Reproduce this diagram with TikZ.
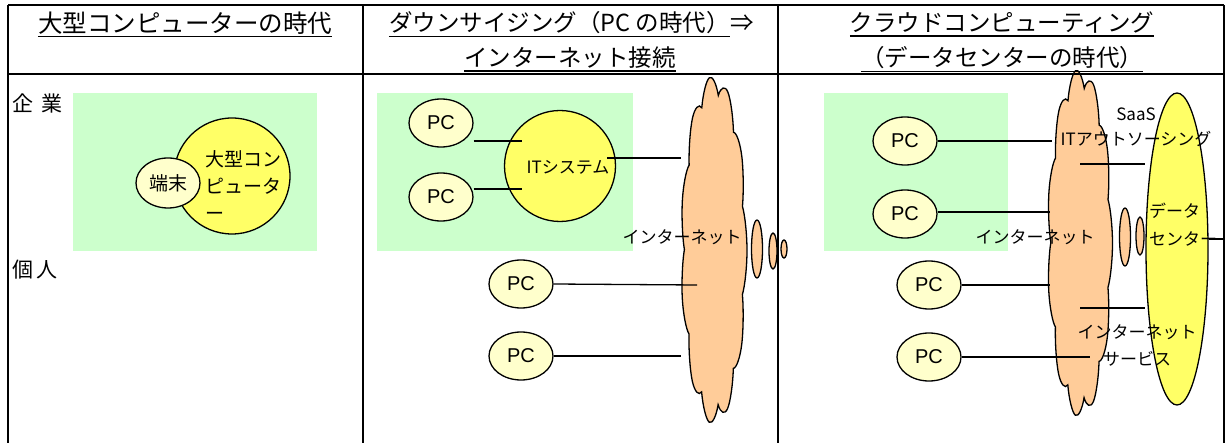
\documentclass[tikz,border=0pt]{standalone}
\usepackage{fontspec}
\setmainfont{Noto Sans CJK JP}
\newfontfamily\arialf{Liberation Sans}
\usetikzlibrary{shapes.symbols,shapes.geometric}
\definecolor{lgreen}{RGB}{204,255,204}
\definecolor{yel}{RGB}{255,255,102}
\definecolor{pale}{RGB}{255,255,204}
\definecolor{peach}{RGB}{255,204,153}
\begin{document}
\begin{tikzpicture}[x=1pt,y=-1pt,
  grid/.style={line width=2pt},
  zone/.style={fill=lgreen,draw=none},
  hdr/.style={inner sep=0pt,font=\fontsize{23.5}{28}\selectfont},
  uline/.style={line width=1.6pt},
  side/.style={inner sep=0pt,anchor=west,font=\fontsize{21}{24}\selectfont},
  pcnode/.style={ellipse,draw,line width=1.3pt,fill=pale,minimum width=64pt,minimum height=48pt,inner sep=0pt,font=\arialf\fontsize{20}{24}\selectfont},
  bigsys/.style={circle,draw,line width=1.3pt,fill=yel,inner sep=0pt},
  cloudnode/.style={cloud,cloud puffs=11,cloud puff arc=115,cloud ignores aspect,draw,line width=1.3pt,fill=peach,inner sep=0pt,minimum width=100pt,minimum height=100pt,transform shape},
  bubble/.style={ellipse,draw,line width=1.3pt,fill=peach,inner sep=0pt},
  txt/.style={inner sep=0pt,font=\fontsize{17}{25}\selectfont},
  conn/.style={line width=1.3pt}]
\useasboundingbox (0,0) rectangle (1227,443);
% ---------- column 1 ----------
\fill[zone] (73,93) rectangle (317,251);
\node[bigsys,minimum size=116pt] (mf) at (232,176) {};
\node[pcnode,minimum width=64pt,minimum height=50pt,font=\fontsize{19}{22}\selectfont] (term) at (168,183) {端末};
\node[txt,align=left,anchor=west,font=\fontsize{19}{27}\selectfont] (mflbl) at (205,186) {大型コン\\ピュータ\\ー};
\node[side] (corp) at (12,103) {企\hspace{8pt}業};
\node[side] (indiv) at (12,270) {個\hspace{3pt}人};
% ---------- column 2 ----------
\fill[zone] (377,93) rectangle (633,251);
\begin{scope}[shift={(714,250)},xscale=0.66,yscale=3.48]
  \node[cloudnode,rotate=8] (net2) at (0,0) {};
\end{scope}
\node[bubble,minimum width=11pt,minimum height=58pt] (b21) at (757,249) {};
\node[bubble,minimum width=8pt,minimum height=36pt] (b22) at (773,251) {};
\node[bubble,minimum width=6pt,minimum height=18pt] (b23) at (784,249) {};
\node[pcnode] (pc21) at (441,123) {PC};
\node[pcnode] (pc22) at (441,197) {PC};
\node[bigsys,minimum size=111pt] (its) at (560,166) {};
\node[pcnode] (pc23) at (521,284) {PC};
\node[pcnode] (pc24) at (521,356) {PC};
\coordinate (c21) at (522,141);
\coordinate (c22) at (522,189);
\coordinate (itsout) at (607,158);
\coordinate (c2net) at (681,158);
\coordinate (c23) at (697,285);
\coordinate (c24) at (681,356);
\draw[conn] (pc21.east |- c21) -- (c21);
\draw[conn] (pc22.east |- c22) -- (c22);
\draw[conn] (itsout) -- (c2net);
\draw[conn] (pc23.east) -- (c23);
\draw[conn] (pc24.east) -- (c24);
\node[txt] (itslbl) at (568,167) {ITシステム};
\node[txt] (net2lbl) at (682,237) {インターネット};
% ---------- column 3 ----------
\fill[zone] (824,93) rectangle (1008,251);
\begin{scope}[shift={(1080,243)},xscale=0.65,yscale=3.48]
  \node[cloudnode,rotate=8] (net3) at (0,0) {};
\end{scope}
\node[bigsys,ellipse,minimum width=62pt,minimum height=312pt] (dc) at (1177,249) {};
\node[bubble,minimum width=11pt,minimum height=58pt] (b31) at (1125,237) {};
\node[bubble,minimum width=8pt,minimum height=38pt] (b32) at (1140,236) {};
\node[pcnode] (pc31) at (905,141) {PC};
\node[pcnode] (pc32) at (905,214) {PC};
\node[pcnode] (pc33) at (929,285) {PC};
\node[pcnode] (pc34) at (929,357) {PC};
\coordinate (c31) at (1052,141);
\coordinate (c32) at (1050,212);
\coordinate (c33) at (1050,285);
\coordinate (c34) at (1090,357);
\coordinate (n3a) at (1080,164);
\coordinate (n3b) at (1080,308);
\coordinate (dcright) at (1224,239);
\draw[conn] (pc31.east) -- (c31);
\draw[conn] (pc32.east |- c32) -- (c32);
\draw[conn] (pc33.east) -- (c33);
\draw[conn] (pc34.east) -- (c34);
\draw[conn] (n3a) -- (n3a -| dc.west);
\draw[conn] (n3b) -- (n3b -| dc.west);
\draw[conn] (dcright -| dc.east) -- (dcright);
\node[txt,align=center] (saas) at (1136,127) {SaaS\\ITアウトソーシング};
\node[txt] (net3lbl) at (1035,237) {インターネット};
\node[txt,align=left,anchor=west,font=\fontsize{17}{28}\selectfont] (dclbl) at (1149,225) {データ\\センター};
\node[txt,align=center,font=\fontsize{17}{27}\selectfont] (isvc) at (1137,345) {インターネット\\サービス};
% ---------- headers ----------
\node[hdr,font=\fontsize{24.5}{28}\selectfont] (h1) at (185,23) {大型コンピューターの時代};
\node[hdr,anchor=east] (h2a) at (730,23) {ダウンサイジング（PC の時代）};
\node[hdr,anchor=west] (h2arr) at (h2a.east) {⇒};
\node[hdr] (h2b) at (570,58) {インターネット接続};
\node[hdr] (h3a) at (1002,23) {クラウドコンピューティング};
\node[hdr] (h3b) at (1002,58) {（データセンターの時代）};
\foreach \h in {h1,h2a,h2b,h3a,h3b}
  \draw[uline] ([yshift=-2pt]\h.south west) -- ([yshift=-2pt]\h.south east);
% ---------- table ----------
\draw[grid] (8,5) -- (1224,5);
\draw[grid] (8,74) -- (1224,74);
\foreach \x in {8,363,778,1224}
  \draw[grid] (\x,5) -- (\x,450);
\end{tikzpicture}
\end{document}
